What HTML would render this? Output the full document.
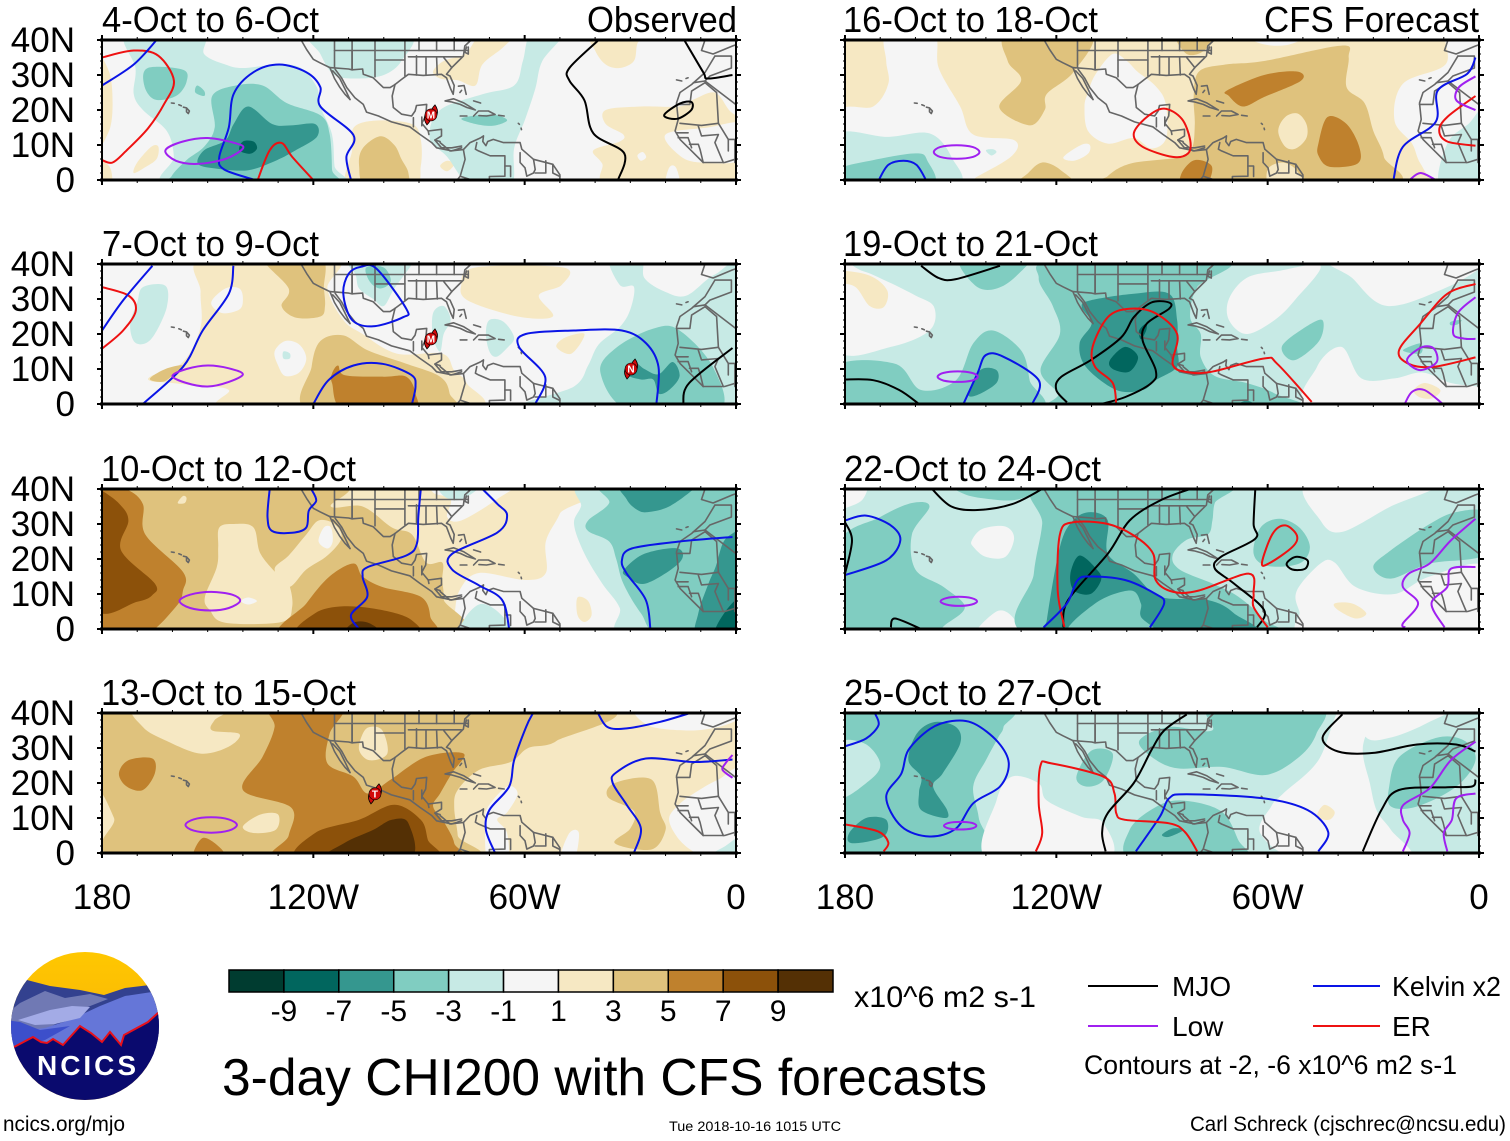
<!DOCTYPE html>
<html lang="en">
<head>
<meta charset="utf-8">
<title>3-day CHI200 with CFS forecasts</title>
<style>
html,body{margin:0;padding:0;background:#fff}
svg{display:block}
text{font-family:"Liberation Sans",Arial,sans-serif;fill:#000}
</style>
</head>
<body>
<svg id="chart" xmlns="http://www.w3.org/2000/svg" width="1510" height="1141" viewBox="0 0 1510 1141">
<rect width="1510" height="1141" fill="#fff"/>
<g id="panels"></g>
<g font-size="36">
<text x="102" y="32" textLength="217" lengthAdjust="spacingAndGlyphs">4-Oct to 6-Oct</text>
<text x="102" y="256" textLength="217" lengthAdjust="spacingAndGlyphs">7-Oct to 9-Oct</text>
<text x="101" y="481" textLength="255" lengthAdjust="spacingAndGlyphs">10-Oct to 12-Oct</text>
<text x="101" y="705" textLength="255" lengthAdjust="spacingAndGlyphs">13-Oct to 15-Oct</text>
<text x="843" y="32" textLength="255" lengthAdjust="spacingAndGlyphs">16-Oct to 18-Oct</text>
<text x="843" y="256" textLength="255" lengthAdjust="spacingAndGlyphs">19-Oct to 21-Oct</text>
<text x="844" y="481" textLength="257" lengthAdjust="spacingAndGlyphs">22-Oct to 24-Oct</text>
<text x="844" y="705" textLength="257" lengthAdjust="spacingAndGlyphs">25-Oct to 27-Oct</text>
<text x="587" y="32" textLength="150" lengthAdjust="spacingAndGlyphs">Observed</text>
<text x="1264" y="32" textLength="215" lengthAdjust="spacingAndGlyphs">CFS Forecast</text>
</g>
<g id="colorbar"></g>
<text x="854" y="1007" font-size="30" textLength="182" lengthAdjust="spacingAndGlyphs">x10^6 m2 s-1</text>
<text x="222" y="1095" font-size="52" textLength="765" lengthAdjust="spacingAndGlyphs">3-day CHI200 with CFS forecasts</text>
<g font-size="28">
<line x1="1088" x2="1158" y1="986" y2="986" stroke="#000" stroke-width="2"/>
<text x="1172" y="996">MJO</text>
<line x1="1313" x2="1380" y1="986" y2="986" stroke="#0a14e6" stroke-width="2"/>
<text x="1392" y="996" textLength="109" lengthAdjust="spacingAndGlyphs">Kelvin x2</text>
<line x1="1088" x2="1158" y1="1026" y2="1026" stroke="#a020f0" stroke-width="2"/>
<text x="1172" y="1036">Low</text>
<line x1="1313" x2="1380" y1="1026" y2="1026" stroke="#ee1111" stroke-width="2"/>
<text x="1392" y="1036">ER</text>
<text x="1084" y="1074" font-size="27" textLength="373" lengthAdjust="spacingAndGlyphs">Contours at -2, -6 x10^6 m2 s-1</text>
</g>
<text x="3" y="1131" font-size="21" textLength="122" lengthAdjust="spacingAndGlyphs">ncics.org/mjo</text>
<text x="669" y="1131" font-size="14" textLength="172" lengthAdjust="spacingAndGlyphs">Tue 2018-10-16 1015 UTC</text>
<text x="1190" y="1131" font-size="21" textLength="316" lengthAdjust="spacingAndGlyphs">Carl Schreck (cjschrec@ncsu.edu)</text>
<g>
<defs>
<clipPath id="logoClip"><circle cx="85" cy="1026" r="74"/></clipPath>
<linearGradient id="sky" x1="0" y1="0" x2="0" y2="1"><stop offset="0" stop-color="#ffc800"/><stop offset="1" stop-color="#f4a60c"/></linearGradient>
</defs>
<g clip-path="url(#logoClip)">
<rect x="10" y="950" width="150" height="152" fill="url(#sky)"/>
<polygon fill="#33418f" points="5,985 27,980 50,986 80,990 104,995 125,988 150,985 165,1010 165,1060 5,1060"/>
<polygon fill="#7079b4" points="5,1015 20,1003 45,991 65,998 90,994 108,999 80,1010 70,1016 45,1030 5,1050"/>
<polygon fill="#6576d8" points="70,1020 100,1006 125,996 165,990 165,1060 5,1060 10,1032 45,1028"/>
<polygon fill="#a3abe6" points="18,1020 50,1010 72,1006 90,1007 80,1018 55,1024 35,1025"/>
<polygon fill="#3c4fcb" points="5,1020 20,1022 40,1030 70,1026 45,1040 12,1050 5,1050"/>
<polygon fill="#0a0a6e" points="14,1047 33,1037 41,1042 47,1043 53,1039 63,1045 80,1026 91,1033 102,1042 110,1032 121,1045 124,1035 148,1022 159,1012 165,1012 165,1105 5,1105 5,1047"/>
<polyline fill="none" stroke="#e8101a" stroke-width="2" points="14,1047 33,1037 41,1042 47,1043 53,1039 63,1045 80,1026 91,1033 102,1042 110,1032 121,1045 124,1035 148,1022 159,1012"/>
</g>
<text x="37" y="1075" font-size="28" font-weight="bold" style="fill:#fff" textLength="99">NCICS</text>
</g>
</svg>
<script>
// Colour levels (x10^6 m2 s-1 bin mid-points)
const levelValues = [-10,-8,-6,-4,-2,0,2,4,6,8,10];
const levelColors = ['#003c30','#01665e','#35978f','#80cdc1','#c7eae5','#f5f5f5','#f6e8c3','#dfc27d','#bf812d','#8c510a','#543005'];
const colorbarLabels = ['-9','-7','-5','-3','-1','1','3','5','7','9'];
const latTicks = [0,10,20,30,40];
const latLabels = ['0','10N','20N','30N','40N'];
const lonTicks = [180,120,60,0];
const lonLabels = ['180','120W','60W','0'];
const backgroundLevels = [0,0,0,2,2,-2,-2,-2];

// Filled contours: [level, [lonW,latN,...]]
const fills0 = [
[2,[182,35,178,31,177,22,178,14,182,10]],
[2,[182,6,178,4,177,0,177,-2,182,-2]],
[2,[171,2,170,5,166,9.5,164,9.5,164.5,6,168,3.5]],
[2,[108.5,15,102,17,92,16,89.5,11.5,89.5,4,92,-2,110,-2,109,8.5]],
[2,[84,4,82,5.5,80,4.5,82,2.5]],
[2,[86,31,83,34,77,36,74,40,72,42,63,42,66,38,72,33,74,27,79,28.5,84,29]],
[2,[41,42,40,37,37,33,33,32,29,34,28,39,26,42]],
[2,[37,20,27,21,16,21,12,23,6,25,2,20,-2,15,-2,-2,35,-2,38,4.7,40.5,8.5,33,11,32,13,37,16]],
[0,[20,13,8,15,-2,16,-2,6,10,5,16,7]],
[0,[20,-2,19,3.5,17,3.5,16,-2]],
[0,[28,7,26.5,8,25.5,6.5,27,5.5]],
[4,[101,12.5,97,10,95,6,93,2,94,-2,105,-2,107,4,106,9]],
[-2,[173,42,170.5,32,171,24.6,168.4,20,161.6,14,159.6,6.6,160.5,-2,113,-2,114,4,114.7,13,118,21,119,26.5,123.5,32,130,33,140,32,145,33,151,36,152,42]],
[-2,[120,42,118,36,114,30,107,29,100,30,95,34,93,42]],
[-2,[58,42,60.5,34,63,27,72,24.5,84,20,87,12,82,6.6,75,-2,64,-2,63,9,60,17,57,26,55,34,49,42]],
[-4,[167,32,157,31.5,156,28,159,24,165,23,168,27]],
[-4,[153,27,151,25.5,151,24,153.5,25]],
[-4,[78,17.5,74,16,69,15.5,65,17,68,18.5,73,18.5]],
[-4,[148.7,24,142,27,134.4,27,127.6,22,118,18.5,115.4,13.3,114.7,3,115,-2,160,-2,160.3,1,156,5.7,151,9.5,148,15]],
[-6,[138.5,21,131.7,16,126.3,15.6,119.5,16,119,12.3,125,8.5,130.3,5.7,138.5,2.8,148,3.3,152.8,4.7,151,8.5,145,11.3,142.6,16]],
[-8,[141,8.5,140,11,137,11,136,9,138,7.5]]
];
const fills1 = [
[2,[151,42,152,32,152,22,157,12,166,8,166,6.5,160,6,152,5,144,4,143,-2,76,-2,76.5,6,80,9.6,83.4,14.4,96.3,14.4,106,20,111.5,24,116,33,114,42]],
[0,[149,29,145,33,141,33,140,30,141,27,146,26]],
[0,[131,15,128,18,124,17,122,13,124,9,128,8,130,11]],
[2,[78,34,74,39,49,39,49.5,34,56,31,52,25,62,25,76,29.5]],
[2,[43,20,46.7,14.4,51,16.3,48.5,19]],
[4,[134,42,118,42,117,33,116.7,28,118,25,125,24.7,129,28,127,33]],
[4,[166.4,7.2,162,10,157,11,160.5,7.7,163,6.3]],
[4,[118,18,111.5,19.6,104.5,15.3,93.6,11.5,84,7.8,81.3,3,82,-2,121,-2,120.5,10.6]],
[6,[114.7,8.7,113,11,111,8.2,100,7.8,93.6,7.8,91,3,92,-2,111,-2,114.7,6]],
[-2,[128.5,15,126.7,14.5,126.7,13,128.5,13]],
[-2,[168.4,33.4,162,33.8,161.6,27.7,165,20,168,17.2,171,18,172,23,170,29]],
[-2,[110,42,92,42,92,40,97,33,100,28,103,30,107,33,108,37]],
[-2,[86,26,83,28,81,24,83,20,84,15,86,19]],
[-2,[70,24,66,23.5,63,19,65,16,68,13.5,70,15,71,20]],
[-2,[36,42,33,34,29,33.5,30,27,33,22,39,17,42,11,46,5,61,-2,-2,-2,-2,38,6,37,14,31,20,32,26,36,27,42]],
[-4,[105,39,100,39,98,35,101,33,104,35]],
[-4,[23,21.7,16,21,6.5,10.5,5,-2,30,-2,38.5,9,33.7,16.3]],
[-6,[31,8.5,29,12,26,10,22,8.5,18,12,16,8,19,4,22,3,23.5,7,27,7]]
];
const fills2 = [
[2,[47,42,50,33,54,25,54,16,60,14,73,16,78.5,11,80,3.5,81,-2,182,-2,182,42]],
[0,[85,42,63,42,68,37,78,31,82,32,81,37,86,39]],
[-2,[84,42,72,42,78,37,83,38]],
[4,[182,42,114,42,115,35,106,35,97.7,29,92,27,88,19,83.4,19,83.4,14,83,8.5,84,-2,182,-2]],
[2,[146.7,29,142.5,30,137,29,135,21.5,129.6,15,127,13,126,6.4,129,2,145,1.8,149.4,5.4,150.8,9,147.4,17.7,147,23.4]],
[2,[131,17,127,21,122,27,118.5,31,114,30,112,26,116,21,122,17,127,12]],
[0,[118.5,25,117,29,115,29,114.5,25,116,23]],
[2,[158.5,36,157,38,156,37.5,156.5,36]],
[0,[140.5,8,138.5,9,136,8,138.5,7]],
[6,[182,42,173.2,40,168.4,35.7,167.7,27,157,16.3,157,11,159,6.4,168.4,-2,182,-2]],
[8,[182,40,180,39.5,175,35.7,172.5,31,174.6,22.5,165,13,165.7,9.7,170,7.8,182,6.5]],
[6,[128.3,-2,122,7.3,115.4,15,108.6,18.7,106,15,100.4,12,89.5,9.2,86.8,3.5,88,-2]],
[8,[123.5,-2,119.5,4.5,111.3,6.5,100.4,5.4,92.2,2.6,92,-2]],
[10,[111.3,-2,108.6,1.8,104,1.6,100.4,-2]],
[0,[45,9,42,8,41,4,43,2,45,4]],
[2,[45,9,42,8,41,4,43,2,45,4]],
[-2,[78,-2,77,3,73,7,69,6,65,2,64,-2]],
[-2,[42,42,44,35,46,30,43,21.5,38,13,33,6,32,-2,-2,-2,-2,42]],
[-4,[37,42,36,36,42,31,42,28,36,25,34,20,32,13,27,4.5,21,-2,-2,-2,-2,42]],
[-6,[32,42,31,37,28,34,25,33.4,19,35,12,40,11,42]],
[-6,[31.7,17,26,21.5,16.5,23,16,19,25.6,13,31,15]],
[-6,[-2,30,0,28,3.5,25,5.7,18,7.8,13,10.7,4.5,10.7,-2,-2,-2]],
[-8,[6,-2,3,5,-2,9,-2,-2]]
];
const fills3 = [
[0,[27,42,25,36.5,14,35,5,36,-2,39,-2,42]],
[0,[12,17,5,21,-2,23,-2,-2,7,-2,13,1,17,5,19,10,16,14]],
[0,[70.5,13,65,19,62,17,65,11.6,67.8,9.5,65,5.7,65,-2,70.5,-2,71.2,8.5]],
[0,[50,-2,47.3,5.7,44.6,5.7,46,-2]],
[-2,[9,-2,3,2,-2,5,-2,-2]],
[4,[42,42,51,32,59,30,64,26,73,23.7,79,18,80,13,79,5,79,-2,172,-2,176.6,10,180,17,182,17,182,42]],
[2,[170,42,168.4,36,161.6,32,152,28.4,144,30.4,141,34,148.7,35,148,38,144,42]],
[2,[140,7.6,135,11,130,11,130.7,6.6,137,5.7]],
[2,[106,34,107,29.4,104,26.5,99,28.4,100.4,35,104,36]],
[6,[132,42,112,42,115.4,34,116,25.6,108.6,21.8,104.5,17,98,21,88,27.5,77.3,28.4,80.7,22.8,84,17,86,13.3,82.7,8.5,80,2.8,81,-2,129,-2,127,5,126.3,13,140,18,134.4,27.5,131,36]],
[6,[175.2,22.7,172.5,26.5,165.7,27,165,22.7,168.4,18,173,19]],
[6,[154,-2,151.4,4.3,146,1,145.6,-2]],
[4,[36.4,16,34.4,20,24,21,21.5,11.4,20,6.6,24,1,34.4,2.8,30,7,29,12]],
[8,[123.5,-2,119.5,5.7,107,9.5,97,13.8,89.5,9.5,87.5,3.8,86,-2]],
[10,[116.7,-2,111.3,2.8,103,6.6,97.7,9.5,93,8.5,93,-2]]
];
const fills4 = [
[0,[168,42,155,42,153.4,32,147.3,21,143.6,13,132,11.4,132.5,7,142.4,1,148.5,-2,182,-2,182,19,172,21,167.7,27.5,168.3,34]],
[0,[111,25,109,30,104,36,100,34,97,31,92,27,89,22,88.8,12,93,9,98,12,105.4,10.4,111,14,112,21]],
[0,[66,42,62,39,55,38.5,48,41,46,42]],
[0,[9,42,9.5,33,21.6,27.5,24,17,19,10.4,16.6,4.7,11,-2,-2,-2,-2,42]],
[0,[118,6.5,113,10,110.5,10,111,7.5,115,5.5]],
[4,[79.5,31,72,33,61,34,39,38.4,37,35,37.6,26.5,32.5,22,30,14,27,6.6,27.7,-2,106,-2,105.5,1,99,4.7,85,6.5,81.5,9,80.7,16,81,24]],
[4,[131,-2,128,2,124,5,119,3,115,-2]],
[4,[133.6,42,110.3,42,115,31,122.7,24.6,123.3,20,127.6,15.6,136.2,20.8,130,28.4,133.8,34]],
[4,[86,42,76,42,78,37,83,36]],
[2,[57,14,55,18,51.5,19,49,16,49,12,52,9,55,9.5]],
[2,[59,-2,60,3,56,5,52,3,50,-2]],
[6,[71.5,25.6,61,30,51.7,31,50.5,28.4,61,23.7,67,21,71,24]],
[6,[45.6,10.4,43,18,37.6,16,34,9.5,34.5,4.7,42.5,3.8,45.6,7]],
[6,[84.4,2,80.7,5.7,75.8,3.8,78,-2,84.4,-2]],
[-2,[182,13,168,12.3,156,13.3,149.8,6.6,149,-2,182,-2]],
[-2,[140,8.5,138,8.8,137,8,138.5,7]],
[-2,[11,-2,9,10.4,3,16,-2,20,-2,-2]],
[-4,[182,3,172,5.7,160,7.6,156.7,5.7,156,-2,182,-2]]
];
const fills5 = [
[0,[182,39,175,38,168,35,160,31,154.7,27.7,156,21,167,16.3,182,15.4]],
[2,[182,38,173,36.7,168,32.4,169,27.7,173,28,177,33.4,182,35]],
[0,[41.5,42,36,36,26,28,9,33.4,-2,40,-2,42]],
[0,[71,30,66,36,57,38,45,39.5,52,30,58,24,66,20,71,24]],
[0,[47,-2,46,10.6,39,16.3,33.4,7.3,24,7.3,16,9,8,6,0,5,-2,5,-2,-2]],
[2,[18.5,4,15.4,6,11,4,13.3,1.6,17,2]],
[-4,[125,36,120,41,72,41,80,33.4,82,24.8,79,20,79,13.4,75,8,66,6,58,3,52,-2,118,-2,119.5,3,124.5,9.7,119,20,121,28]],
[-4,[147,42,142.4,33.4,135,33.8,127,41,127,42]],
[-4,[182,11,165.8,11.5,158.4,4,148.5,6.8,143.6,17.3,138,21,130,15.3,127.6,6.8,127,-2,182,-2]],
[-4,[56,16.3,50,21.5,44.5,24,45.4,18,52.5,12.5]],
[-4,[21.6,15.3,16.6,17.3,16.6,14.4]],
[-4,[8,23.5,5,24,6,22.8,8,22.5]],
[-6,[112.8,27.7,110.3,29.6,98,31.5,88,31.5,85.7,24,85.7,16.3,85.7,10.6,91.8,6.8,95.5,4,103,4,111.6,10.6,113.4,17.3,110,23]],
[-6,[145,3,141.6,9.7,137,9.7,137,6,142.6,2.5]],
[-6,[70,-2,66,1,62,-2]],
[-8,[104.8,12.5,100.5,16.3,96.8,13.5,99.3,9.2,104,10]],
[-8,[96.5,21,94.5,23,94.5,21,96,18.5]]
];
const fills6 = [
[0,[182,42,174,42,175,37,180,34.5,182,34]],
[0,[144,25.3,141,28.6,134.5,29.3,132,26,134.5,20.6,140,20.6,143.5,23.4]],
[0,[143,-2,137,5,132.5,3.5,131,-2]],
[0,[48,42,45,31,39,27.7,25.5,34.8,11.7,42]],
[0,[51.7,11,45,18.7,41,19,35,12,24,10,14,15,-2,17.7,-2,-2,47.5,-2,51,5]],
[2,[41,7.3,36,7.3,32,4.5,35,3,40,5.4]],
[-4,[182,24,170,32,161,36,156,35,161,27,160,17,152,12,146,6.4,151,1.6,158,-2,182,-2]],
[-4,[149,42,146,38.5,138,37,131,37,124,40,123,42]],
[-4,[124,42,124,30,126.4,15.8,127,-2,60,-2,61,2.6,68.3,9.2,75.7,13,85,17,87,21,83,25.5,77,27,75.7,31,75,36,72,42]],
[-2,[84.4,22,78,23.4,72,21.5,75,18,82,17.7]],
[-4,[64,21.5,62,29,56.7,31.5,51,29,48,23.4,51,18.7,60,18]],
[-4,[30,17.7,25,22.5,14,30,6.5,33.4,-2,33,-2,21.5,14,18.7,25,14.4]],
[-6,[122.7,-2,122.7,2.5,119,23.4,115.3,31,110.3,33.4,105.4,31,105.4,21.5,98,15.8,90.6,9.2,77,8.3,69.6,4.5,66,-2]],
[-4,[116.5,-2,109,7.3,99,11,96,7.3,96,3.5,92,-2]],
[-8,[116,15.8,113.4,21,108.5,17,107.3,14,110.3,10,115,11]]
];
const fills7 = [
[-4,[182,42,135,42,135,36,136.5,33,140,26.5,143.6,19,142,10,141,-2,182,-2]],
[-2,[182,30.8,174.5,31.3,170,25.6,173,20.8,182,16]],
[0,[139.3,-2,137,15,132.7,21.8,125,19.9,122.7,15,113,10.4,106.6,8.5,106,-2]],
[0,[59,13.3,55.6,17,45.6,26.5,39,42,30,42,33,30,31,20,29,12,25,6.6,20,-2,50,-2,62,5.5]],
[0,[34,42,32,33,25,33,15,37,8,42]],
[2,[46,10.4,44,13.7,41,11.8,42.5,9.5]],
[-4,[75.8,42,45.6,42,46.2,34,51,27.5,60.6,22.3,73,24.6,85.7,24.2,93,27.5,96.4,32.2,88,36,75.8,35]],
[-4,[25.5,19,22.6,27.5,11.7,33,4,32,1,26.5,6.4,19,17.6,13.3,25,13.3]],
[-4,[114.3,21.8,110,29.3,104,28.4,106.6,20.8,111.6,19]],
[-4,[99.2,6.6,92,13,84.4,15,73.3,12,68.4,3.8,67,-2,98,-2]],
[-6,[162,26.5,159.7,34,154.7,37.4,148.5,36,147.3,31.3,152.3,22.7,155,19,151,12.3,151.6,10,158.4,12.3,159,17.3,158.4,21.8]],
[-6,[178.8,5.7,174,10,168.3,9.5,169,4.7,178,2.8]],
[-6,[90,5.2,87,7,83.9,6.6,88,4.6]]
];

// Contour lines: [series, [lonW,latN,...], closed]
const lines0 = [
['ER',[180,35,171,37,164,35.5,159.6,28.4,162.3,21.8,167,14.7,173,8.5,177,5,180,5.7],0],
['ER',[135.8,0,132.4,8.5,129,10.6,126,6.6,120,0],0],
['Kelvin',[180,27,171,33,164.5,40],0],
['Kelvin',[136.5,0,145.3,3,146.7,6.6,144,15,142.6,24.6,137,30.8,129.7,33,122,30.8,118,26.5,118,21,108.6,12.8,110.6,6.6,109.3,0],0],
['Low',[162,8.5,157,11,150,12,142,10.5,140,9,145,6,153,4.6,159,5.5],1],
['MJO',[39,40,47.3,32,47.3,28.4,43,22.7,40.5,13.3,31.7,7.6,33.5,0],0],
['MJO',[14.7,40,9.3,30.8,8,29,1,30],0],
['MJO',[20.4,18.5,16,21.8,12.7,22.3,12.7,20,16.7,17.5],1]
];
const lines1 = [
['ER',[180,33.4,172.5,31,170.4,26.7,174,21,180,15.8],0],
['Kelvin',[180,21,174,29.6,165.7,39.5],0],
['Kelvin',[168.4,0,157,10.6,151.4,21,144,31.5,142.7,39.5],0],
['Kelvin',[106.5,39.2,102,38.6,93.6,27.2,94.5,24.8,103,22.2,109,24,111.5,31.5,110,37.2],1],
['Kelvin',[120,0,115.7,6.8,108.6,11,100.4,11.5,92.2,8.3,91,5,92,0],0],
['Kelvin',[57,0,54.2,7.8,61.6,16.3,59.7,20,46,21,32.4,21,25.5,17.3,22,10.6,22.6,0],0],
['Low',[160,8,156,10,150,11,144,10.2,140,8.5,144,6.3,150,5,156,6],1],
['MJO',[15,0,13.3,6,1,16],0]
];
const lines2 = [
['Kelvin',[132.4,40,133,32,131.7,28,126,27.5,122,29,121.3,33.8,119.2,36.7,120.6,40],0],
['Kelvin',[89.5,40,90.2,32,90.6,24.4,93.6,21,104.5,17.7,106,15,104.7,9.2,109.3,4,107,0],0],
['Kelvin',[72,40,67.7,35.7,65,32.5,67.7,27.6,80.6,21.5,80.6,17,73,12.5,66.4,8.3,64.4,0],0],
['Kelvin',[24.3,0,25.6,8.3,31,15.8,32.4,19.6,29.6,23,16,25,1,26.3],0],
['Low',[158,8,155,9.8,149,10.6,143,9.8,140.8,8,144,6,149,5.3,155,6],1]
];
const lines3 = [
['Kelvin',[68.4,0,71,6.6,70,12.3,64.4,19,63,26.5,59.6,36,57.6,40],0],
['Kelvin',[39.2,40,36.5,36,31,35.6,21.5,37.5,13,40],0],
['Kelvin',[29,0,27,7,31,13.7,35,20,34,23,25.6,27,12,26,1,26.7],0],
['Low',[156.3,8,154,9.6,149,10.2,144,9.6,141.7,8,144,6.4,149,5.8,154,6.4],1],
['Low',[1,28,3,25.6,3.8,23.7,1,21.5],0]
];
const lines4 = [
['Kelvin',[170.4,0,167.7,4.3,163.4,5.5,159.7,4.3,157,0],0],
['Low',[154.8,8,153,9.4,148.3,9.9,143.7,9.4,141.8,8,143.7,6.6,148.3,6.1,153,6.6],1],
['ER',[98,13.3,94.3,18,89.4,20.4,84.4,17.5,82,11.4,82.6,7.6,87,6.6,95.5,9.5],1],
['Kelvin',[24.3,0,21.6,9.5,12.3,16.6,11.7,25.6,3.4,30.3,1,35],0],
['ER',[1,24,9,18,11.3,14.2,9,11,1,9.8],0],
['Low',[1,29.6,5.7,26.5,6.4,22.7,1,20],0],
['Low',[19.7,0,16.6,2,12.3,0],0]
];
const lines5 = [
['MJO',[158.4,39.5,153.4,36,148.5,35.7,136,39.5],0],
['MJO',[117,0.5,120,4,118.7,7.7,110.3,12.5,101.6,19,98,24.8,93,29,88,29,88,27.2,94.3,23,95.5,18.2,91.8,9.7,93,6,100.4,2,107.3,0],0],
['MJO',[180,7,172,6.8,164.6,4,159,0],0],
['ER',[103,0,104,6,109,10.6,109.7,16.3,105.4,24.8,99.3,27.2,92,26,85.7,20,87,11.5,83.3,9.2,76,9.2,61,13,57.3,11.5,47.5,0.6],0],
['ER',[1,34.3,9,31.5,16.6,23,22.7,15.3,20,11.5,13,10.6,1,13.3],0],
['Kelvin',[146.3,0.2,142.4,8.7,140,14,135,13.5,125,6.8,126.7,0.2],0],
['Low',[153.7,7.8,152,8.9,148,9.3,144,8.9,142.3,7.8,144,6.7,148,6.3,152,6.7],1],
['Low',[1,30.5,6,26,7.3,20,4.2,18.7,1,18.6],0],
['Low',[20,13.5,16,16.3,12.8,15.8,12,12,16.5,9.7,20,11.5],1],
['Low',[21,0.2,19,3.5,15.5,4,10.5,0.2],0]
];
const lines6 = [
['MJO',[155.3,40,149.8,35,142.4,34,132.5,35.7,124,40],0],
['MJO',[167,0.5,165.8,3,158.4,0],0],
['MJO',[180,30.5,178,25.3,180,15.8],0],
['MJO',[118,0.5,116.7,8.2,105.4,21.5,99.2,31,90.6,36.7,82,40],0],
['MJO',[63.5,40,64,30,63.5,25.8,73.3,20.6,75,17.3,69.6,13,61,5.4,63,0.5],0],
['MJO',[54.6,18.7,52,20.6,48.7,19.6,49.4,17.2,53,17],1],
['ER',[117.7,0.6,119.6,11,119,27,115.3,30.5,105.4,30,98,26.7,92.5,21.5,91.8,14,86.8,10.6,79.5,11,65.3,15.8,64,10,64,6.3,60,0.5],0],
['ER',[61.6,19,58.6,27.2,55,29.6,51.7,26.7,53,23.4,59.7,18.7],1],
['Kelvin',[180,31,174,32.4,167,29.6,164.3,25.3,168.3,19.6,180,15.4],0],
['Kelvin',[123.6,0.5,117,7.3,114,13.9,110.3,15,100.5,14,91.8,10,89.4,7.3,93.4,0.5],0],
['Low',[152.9,7.9,151.3,8.8,147.7,9.2,144,8.8,142.5,7.9,144,7,147.7,6.6,151.3,7],1],
['Low',[1,31.5,8,25.3,14,18.7,20,15.8,21.6,12,17.3,7.3,21.6,1.6,21,0.5],0],
['Low',[1,17.7,8,17.2,9,12,13.5,7.3,9.8,0.5],0]
];
const lines7 = [
['Kelvin',[180,30.5,174,32.7,170.5,36.5,171.4,39.7],0],
['Kelvin',[162,29.4,155.8,35.5,149.6,37.7,143.4,37,136.6,31.7,133.5,25.6,136,19,143.6,14.2,148.5,7,156,4.7,164,7.6,168.3,16,164,22.7],1],
['Kelvin',[97.4,0.5,90.6,10.4,88,15.6,83,16.8,61,15.6,48.7,12.3,42.8,6,45.6,0.5],0],
['Low',[151.9,7.8,150.5,8.6,147.3,8.9,144,8.6,142.7,7.8,144,7,147.3,6.7,150.5,7],1],
['ER',[180,8.2,170.7,6.2,167.7,3,169,0.5],0],
['ER',[125.8,0.5,124,5.7,125,14.2,124.5,25,121.4,25.6,106.6,21.8,103.5,17,103,11.4,100.5,9.5,88,8.5,83.5,6,80,0.5],0],
['MJO',[106,0.5,107,5.7,105.4,11.4,98,20,93,29.4,89.4,35,83,39.6],0],
['MJO',[38.8,39.6,44.4,33,40,29,30,28.6,17.6,31,6.5,31,1,29],0],
['MJO',[33,0.5,27.7,12.3,22.7,18,9,18.8,2,19,1,21],0],
['Low',[1,31.8,8,26.5,14,18.5,21.5,13.7,21.6,9.5,19.7,5.7,21.6,0.5],0],
['Low',[1,17,6.5,15.6,7.7,9.5,10,5.7,9,0.5],0]
];

// Tropical cyclones: [letter, lonW, latN]
const storms0 = [['M',86.6,18.6]];
const storms1 = [['M',86.6,18.6],['N',29.8,10]];
const storms2 = [];
const storms3 = [['T',102.5,16.9]];

// Coastlines and borders: [lonW,latN,...]
const mapOutlines = [
// Pacific coast and Baja
[123.3,39.7,121.9,37.3,120,34.5,118.1,33.5,115.3,32.1,114,29,112.5,26.5,111,24.5,109.6,23],
[109.6,23,111,26,112.5,29,114.5,31.2],
[113.8,31.6,112,29.2,110.5,26.4,108.2,23.5,105.8,21.6,104.9,19.4,101.5,18.3,97.8,16.6,92.6,15.2,89.7,13,86.4,10.7,85,9.2,80.7,8.3,77.9,9.2],
// Gulf and Central America
[96.8,27.3,97.6,24,97.3,20.7,94.9,18.8,92.1,18.3,91.1,19.7,90.7,21.3,87.8,21.6,88.1,18.3,89.2,16.2,87.4,14,83.6,14.5,83.6,12.6,85.5,11.4,83.6,9.2,80.7,9.2,77.9,9.7],
[91.6,17.8,91.6,15.2],[89.2,18,89.2,15.5],[87.4,14,87.2,13],[84,11,85.5,11.4],
[96.8,27.3,95,28.7,93,30.2,88.8,29.9,83.6,30.2,82.2,29.2,81,26,80.3,24.5,80,27,81.2,29.7,82.2,30.2,80.7,32.1,78.8,34,77.4,35.4,77,38.3,75.5,39.7,75,40.5],
[76.5,38,77,36.5,76,36,76,38],
// US and Mexico borders
[115.3,32.1,110,31.7,109,31.5,106,31.7,105.8,30.2,103,29.2,100.1,26.4,98.2,26.4,96.8,27.3],
[114,40,114,32],[109,40,109,31.5],[102.5,40,102.5,29.5],[94,40,94,29.8],[90.7,35.5,90.7,30],[88,35.2,88,30],[85,35,84.8,30],[83,35,80.7,32.1],[93,35.2,78,35.2],[114,37,76,37],[102.5,34.3,94,34.3],[109,37,109,31.5],[85,40,85,37],[80,40,80,37],[90,40,90,37],
// Caribbean islands
[82.6,22.6,80.2,23.2,77.4,22.1,74,20,76.4,20.7,78.3,21.6,80.7,22.3,82.6,22.6],
[78.8,26.8,77.2,27,76.6,24.5],[78.4,25,77.9,25.6],[74.5,22.6,72.5,22],
[78.3,18.3,76.4,18.3],
[74.5,18.3,73.1,19.7,70.3,19.7,68.4,18.7,70.8,18.3,73,18.4],
[67.4,18.5,65.8,18.3],[61.8,16.2,61.5,15.9],[61,14.8,60.9,14.4],
// Hawaii and Canaries
[160.3,22,159.5,21.9],[158.2,21.5,157.5,21.2],[156.9,20.8,156,20.6,155.2,19.7,155.5,19,156,19.5,156,20.6],
[16.9,28.6,15.4,28.3],[14.2,29,13.6,29.2],
// South America
[84,10.7,81.2,8.3,77.4,8.7,76.9,5.9,78.3,1.1,80,-1],
[77.4,8.7,75.5,10.7,72.6,12,71.7,12.6,71.9,11,71,9.8,70.5,11,68.9,11.6,66,10.7,61.3,10.7,60.8,8.8,57.5,5.9,52,4.5,50,1.5,50,-1],
[73.6,10.7,74,8.8,73.1,8.3,69.8,6.9,65.6,6.9,65.6,1.1,70,1,70,-1],
[65.6,4,64,4,64,1],[61.3,7.8,61.3,5,59.9,3.5,59.4,1.1,57.5,2,57,3,57.5,5.9],[57,2,54,2,54,5.5],[52,4.5,52,2,50,1],[78.3,1.1,75,0,73,-1],
// Africa and Iberia
[6,35.4,8.8,30.7,12.6,27.3,15.9,25,16.9,22,16.4,17.3,17.3,14,15.9,11.6,12.6,8.3,9.3,5,3.2,5,0.3,5.9,-2,5.5],
[8.8,40,9.8,37,6.5,36,1,38.3,-1,39],[6,35.4,1.3,35.4,1.3,32,7.4,29.7,8.8,28.3],
[16.9,21.6,13.1,21.6,12.6,25.4,8.8,27.8,5.5,25,5,16.2,9.8,15.6,15.9,16.2],[8.8,28.3,12.1,27.8],[8.8,28.3,-2,20],
[16.9,13.5,13.6,13.5],[16.4,12.1,13.6,12.1,12.6,9.2],[13.2,10.2,10.7,10.2,10.2,8.7,9.3,5],
[10.7,15.4,9.8,12.6,5,13,6,10.7,5,8.3,3.6,5],[5,16.2,2.2,11.6,2.2,8.3],[2.2,11.6,0.3,11.6,0.3,5]
];

const panelFills = [fills0,fills1,fills2,fills3,fills4,fills5,fills6,fills7];
const panelLines = [lines0,lines1,lines2,lines3,lines4,lines5,lines6,lines7];
const panelStorms = [storms0,storms1,storms2,storms3,[],[],[],[]];

const NS = 'http://www.w3.org/2000/svg';
const panelLefts = [102,845];
const panelTops = [40,264,489,713];
const panelW = 634, panelH = 140;
const seriesStyle = {MJO:'#000000',Kelvin:'#0a14e6',Low:'#a020f0',ER:'#ee1111'};

function make(tag, parent, attrs){
  const el = document.createElementNS(NS, tag);
  for (const k in attrs) el.setAttribute(k, attrs[k]);
  parent.appendChild(el);
  return el;
}
function colorFor(level){ return levelColors[levelValues.indexOf(level)]; }
function smoothPath(p, closed){
  const n = p.length;
  const at = i => closed ? p[(i+n)%n] : p[Math.max(0,Math.min(n-1,i))];
  let d = 'M' + p[0][0].toFixed(1) + ' ' + p[0][1].toFixed(1);
  const last = closed ? n : n-1;
  for (let i=0;i<last;i++){
    const a=at(i-1), b=at(i), c=at(i+1), e=at(i+2);
    d += 'C' + (b[0]+(c[0]-a[0])/6).toFixed(1) + ' ' + (b[1]+(c[1]-a[1])/6).toFixed(1) + ' '
       + (c[0]-(e[0]-b[0])/6).toFixed(1) + ' ' + (c[1]-(e[1]-b[1])/6).toFixed(1) + ' '
       + c[0].toFixed(1) + ' ' + c[1].toFixed(1);
  }
  return d + (closed ? 'Z' : '');
}

const root = document.getElementById('panels');
const defs = make('defs', root, {});

for (let i=0;i<8;i++){
  const col = i<4 ? 0 : 1;
  const row = i%4;
  const left = panelLefts[col], top = panelTops[row];
  const xAxis = lon => left + (180-lon)*panelW/180;
  const yAxis = lat => top + (40-lat)*panelH/40;
  const toPts = arr => { const out=[]; for(let k=0;k<arr.length;k+=2) out.push([xAxis(arr[k]), yAxis(arr[k+1])]); return out; };

  const clip = make('clipPath', defs, {id:'clip'+i});
  make('rect', clip, {x:left, y:top, width:panelW, height:panelH});

  const g = make('g', root, {});
  
  
  const inner = make('g', g, {'clip-path':'url(#clip'+i+')'});

  const bg = make('rect', inner, {x:left, y:top, width:panelW, height:panelH, fill:colorFor(backgroundLevels[i])});
  
  

  panelFills[i].forEach(f => {
    const path = make('path', inner, {d:smoothPath(toPts(f[1]), true), fill:colorFor(f[0])});
    
    
  });

  mapOutlines.forEach(m => {
    const line = make('polyline', inner, {points:toPts(m).map(q=>q[0].toFixed(1)+','+q[1].toFixed(1)).join(' '), fill:'none', stroke:'#666', 'stroke-width':1.6, 'stroke-linejoin':'round', 'stroke-linecap':'round'});
    
    
  });

  panelLines[i].forEach(s => {
    const path = make('path', inner, {d:smoothPath(toPts(s[1]), !!s[2]), fill:'none', stroke:seriesStyle[s[0]], 'stroke-width':2});
    
    
  });

  panelStorms[i].forEach(s => {
    const cx = xAxis(s[1]), cy = yAxis(s[2]);
    const tg = make('g', g, {});
    
    
    make('path', tg, {d:'M'+(cx+1)+' '+(cy-6)+'C'+(cx+2)+' '+(cy-8)+' '+(cx+3)+' '+(cy-9)+' '+(cx+4)+' '+(cy-10)+'C'+(cx+7)+' '+(cy-6)+' '+(cx+7)+' '+(cy-3)+' '+(cx+6)+' '+cy+'L'+(cx+1)+' '+cy+'Z', fill:'#d20a0a', stroke:'#000', 'stroke-width':0.8});
    make('path', tg, {d:'M'+(cx-1)+' '+(cy+6)+'C'+(cx-2)+' '+(cy+8)+' '+(cx-3)+' '+(cy+9)+' '+(cx-4)+' '+(cy+10)+'C'+(cx-7)+' '+(cy+6)+' '+(cx-7)+' '+(cy+3)+' '+(cx-6)+' '+cy+'L'+(cx-1)+' '+cy+'Z', fill:'#d20a0a', stroke:'#000', 'stroke-width':0.8});
    make('circle', tg, {cx:cx, cy:cy, r:6, fill:'#d20a0a', stroke:'#000', 'stroke-width':0.6});
    const t = make('text', tg, {x:cx, y:cy+3.4, 'text-anchor':'middle', 'font-size':10, 'font-weight':'bold', style:'fill:#fff'});
    t.textContent = s[0];
  });

  // frame
  const frame = make('g', g, {stroke:'#000', fill:'none'});
  
  
  make('line', frame, {x1:left-2, x2:left+panelW+2, y1:top, y2:top, 'stroke-width':3});
  make('line', frame, {x1:left-2, x2:left+panelW+2, y1:top+panelH, y2:top+panelH, 'stroke-width':3});
  make('line', frame, {x1:left, x2:left, y1:top, y2:top+panelH, 'stroke-width':2});
  make('line', frame, {x1:left+panelW, x2:left+panelW, y1:top, y2:top+panelH, 'stroke-width':2});
  for (let lon=0; lon<=180; lon+=10){
    const major = lonTicks.indexOf(lon)>=0;
    const len = major ? 5 : 3;
    make('line', frame, {x1:xAxis(lon), x2:xAxis(lon), y1:top, y2:top-len, 'stroke-width':major?2:1});
    make('line', frame, {x1:xAxis(lon), x2:xAxis(lon), y1:top+panelH, y2:top+panelH+len, 'stroke-width':major?2:1});
  }
  for (let lat=0; lat<=40; lat+=2){
    const major = latTicks.indexOf(lat)>=0;
    const len = major ? 5 : 2;
    make('line', frame, {x1:left, x2:left-len, y1:yAxis(lat), y2:yAxis(lat), 'stroke-width':major?2:1});
    make('line', frame, {x1:left+panelW, x2:left+panelW+len, y1:yAxis(lat), y2:yAxis(lat), 'stroke-width':major?2:1});
  }

  if (col === 0){
    latTicks.forEach((lat,k) => {
      const t = make('text', g, {x:75, y:yAxis(lat)+12, 'text-anchor':'end', 'font-size':35});
      
      
      t.textContent = latLabels[k];
    });
  }
  if (row === 3){
    lonTicks.forEach((lon,k) => {
      const t = make('text', g, {x:xAxis(lon), y:909, 'text-anchor':'middle', 'font-size':35});
      
      
      t.textContent = lonLabels[k];
    });
  }
}

// Colorbar
const cbar = document.getElementById('colorbar');
const cbLeft = 229, cbStep = 604/levelValues.length;
levelColors.forEach((c,k) => {
  const box = make('rect', cbar, {x:cbLeft+k*cbStep, y:970, width:cbStep, height:22, fill:c, stroke:'#000', 'stroke-width':1.5});
  
  
});
colorbarLabels.forEach((l,k) => {
  const t = make('text', cbar, {x:cbLeft+(k+1)*cbStep, y:1021, 'text-anchor':'middle', 'font-size':30});
  
  
  t.textContent = l;
});
</script>
</body>
</html>
